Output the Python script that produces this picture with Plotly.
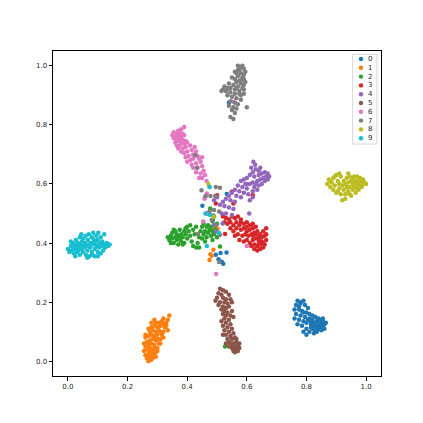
import plotly.graph_objects as go

labels = ["0", "1", "2", "3", "4", "5", "6", "7", "8", "9"]
colors = ["#1f77b4", "#ff7f0e", "#2ca02c", "#d62728", "#9467bd",
          "#8c564b", "#e377c2", "#7f7f7f", "#bcbd22", "#17becf"]
x_ticks = [0.0, 0.2, 0.4, 0.6, 0.8, 1.0]
y_ticks = [0.0, 0.2, 0.4, 0.6, 0.8, 1.0]

pts_0 = [(0.77,0.205),(0.78,0.20),(0.79,0.205),(0.765,0.19),(0.775,0.185),(0.795,0.19),(0.805,0.18),(0.76,0.175),
         (0.785,0.17),(0.80,0.165),(0.765,0.16),(0.78,0.155),(0.795,0.15),(0.76,0.145),(0.775,0.14),(0.79,0.135),
         (0.81,0.145),(0.77,0.125),(0.785,0.12),(0.80,0.13),(0.815,0.125),(0.82,0.14),(0.825,0.13),(0.83,0.12),
         (0.835,0.135),(0.84,0.125),(0.845,0.115),(0.85,0.13),(0.855,0.12),(0.86,0.125),(0.82,0.11),(0.83,0.105),
         (0.84,0.11),(0.85,0.105),(0.81,0.10),(0.825,0.095),(0.835,0.10),(0.80,0.09),(0.815,0.115),(0.845,0.14),
         (0.855,0.135),(0.86,0.11),(0.84,0.145),(0.83,0.15),(0.82,0.155),(0.81,0.16),(0.80,0.11),(0.79,0.10),
         (0.805,0.14),(0.835,0.115),(0.845,0.125),(0.825,0.12),(0.85,0.115),(0.855,0.145),(0.865,0.13),(0.815,0.135),
         (0.79,0.165),(0.775,0.175),(0.78,0.195),
         (0.451,0.526),(0.466,0.5),(0.496,0.36),(0.512,0.366),(0.532,0.368),(0.516,0.337),(0.521,0.33),(0.486,0.478),
         (0.533,0.566),(0.54,0.876),(0.505,0.345)]

pts_1 = [(0.27,0.0),(0.28,0.005),(0.265,0.01),(0.275,0.015),(0.285,0.012),(0.29,0.02),(0.26,0.02),(0.27,0.025),
         (0.28,0.03),(0.295,0.03),(0.255,0.035),(0.265,0.04),(0.275,0.045),(0.285,0.04),(0.30,0.045),(0.26,0.05),
         (0.27,0.055),(0.28,0.06),(0.29,0.055),(0.305,0.06),(0.265,0.065),(0.275,0.07),(0.285,0.075),(0.295,0.07),
         (0.31,0.075),(0.26,0.08),(0.27,0.085),(0.28,0.09),(0.29,0.085),(0.30,0.09),(0.315,0.09),(0.275,0.10),
         (0.285,0.105),(0.295,0.10),(0.305,0.105),(0.32,0.10),(0.28,0.115),(0.29,0.12),(0.30,0.115),(0.31,0.12),
         (0.325,0.115),(0.295,0.13),(0.305,0.13),(0.315,0.135),(0.33,0.13),(0.32,0.145),(0.335,0.14),(0.34,0.155),
         (0.33,0.12),(0.335,0.105),(0.32,0.08),(0.31,0.06),(0.30,0.035),(0.255,0.06),(0.285,0.025),(0.29,0.045),
         (0.275,0.035),(0.295,0.015),(0.3,0.075),(0.31,0.1),(0.32,0.125),(0.26,0.09),(0.27,0.11),(0.28,0.13),(0.29,0.14),
         (0.475,0.343),(0.482,0.357),(0.488,0.377),(0.492,0.45),(0.502,0.448),(0.478,0.362)]

pts_2 = [(0.335,0.42),(0.34,0.41),(0.345,0.425),(0.35,0.435),(0.35,0.415),(0.355,0.40),(0.36,0.42),(0.36,0.44),
         (0.365,0.43),(0.365,0.41),(0.37,0.395),(0.37,0.425),(0.375,0.445),(0.375,0.415),(0.38,0.43),(0.38,0.405),
         (0.385,0.42),(0.39,0.44),(0.39,0.40),(0.395,0.43),(0.40,0.415),(0.40,0.455),(0.405,0.44),(0.41,0.425),
         (0.41,0.46),(0.415,0.405),(0.42,0.445),(0.42,0.39),(0.425,0.43),(0.43,0.385),(0.43,0.455),(0.435,0.40),
         (0.44,0.42),(0.44,0.385),(0.445,0.44),(0.45,0.455),(0.45,0.415),(0.455,0.43),(0.455,0.465),(0.46,0.44),
         (0.46,0.405),(0.465,0.455),(0.465,0.42),(0.47,0.435),(0.47,0.46),(0.475,0.445),(0.48,0.425),(0.48,0.455),
         (0.485,0.44),(0.485,0.41),(0.49,0.43),(0.49,0.46),(0.495,0.445),(0.50,0.42),(0.345,0.40),(0.355,0.445),
         (0.385,0.395),(0.395,0.45),(0.477,0.517),(0.51,0.388),(0.527,0.05),(0.49,0.49),(0.5,0.465),(0.485,0.475)]

pts_3 = [(0.549,0.574),(0.50,0.562),(0.496,0.534),(0.555,0.534),(0.62,0.562),(0.52,0.49),(0.53,0.485),(0.54,0.48),
         (0.55,0.49),(0.56,0.485),(0.57,0.49),(0.58,0.48),(0.525,0.47),(0.535,0.465),(0.545,0.47),(0.555,0.46),
         (0.565,0.47),(0.575,0.46),(0.59,0.465),(0.60,0.47),(0.61,0.46),(0.62,0.465),(0.545,0.45),(0.555,0.44),
         (0.565,0.45),(0.58,0.445),(0.59,0.45),(0.60,0.44),(0.61,0.445),(0.62,0.45),(0.63,0.455),(0.56,0.425),
         (0.57,0.43),(0.585,0.425),(0.595,0.43),(0.605,0.425),(0.615,0.43),(0.625,0.435),(0.635,0.44),(0.645,0.43),
         (0.655,0.44),(0.665,0.45),(0.575,0.41),(0.59,0.405),(0.60,0.41),(0.61,0.40),(0.62,0.41),(0.63,0.415),
         (0.64,0.41),(0.65,0.42),(0.66,0.425),(0.615,0.39),(0.625,0.395),(0.635,0.39),(0.645,0.395),(0.655,0.40),
         (0.665,0.41),(0.625,0.38),(0.635,0.375),(0.645,0.38),(0.655,0.385),(0.64,0.40),(0.65,0.405),(0.63,0.43),
         (0.64,0.42),(0.66,0.395),(0.665,0.43),(0.60,0.455),(0.62,0.425),(0.58,0.47),(0.527,0.431)]

pts_4 = [(0.622,0.675),(0.628,0.665),(0.615,0.655),(0.63,0.65),(0.62,0.64),(0.64,0.645),(0.61,0.63),(0.625,0.625),
         (0.64,0.63),(0.65,0.635),(0.66,0.64),(0.67,0.635),(0.675,0.625),(0.665,0.625),(0.655,0.62),(0.645,0.615),
         (0.635,0.61),(0.62,0.605),(0.66,0.61),(0.67,0.615),(0.60,0.62),(0.59,0.615),(0.58,0.61),(0.595,0.60),
         (0.61,0.60),(0.625,0.59),(0.64,0.595),(0.65,0.60),(0.60,0.585),(0.585,0.59),(0.57,0.595),(0.575,0.575),
         (0.59,0.57),(0.605,0.565),(0.62,0.575),(0.635,0.58),(0.56,0.58),(0.55,0.57),(0.565,0.56),(0.58,0.555),
         (0.61,0.545),(0.54,0.56),(0.53,0.55),(0.545,0.545),(0.56,0.54),(0.52,0.54),(0.51,0.53),(0.525,0.525),
         (0.54,0.52),(0.555,0.515),(0.50,0.555),(0.49,0.545),(0.516,0.50),(0.53,0.50),(0.55,0.495),(0.608,0.50),
         (0.62,0.555),(0.49,0.461),(0.519,0.466),(0.497,0.439),(0.645,0.655),(0.63,0.6),(0.6,0.6)]

pts_5 = [(0.51,0.245),(0.52,0.24),(0.53,0.235),(0.505,0.23),(0.515,0.225),(0.54,0.225),(0.50,0.215),(0.52,0.215),
         (0.53,0.21),(0.545,0.21),(0.495,0.205),(0.51,0.20),(0.525,0.20),(0.535,0.195),(0.55,0.20),(0.505,0.19),
         (0.52,0.185),(0.53,0.18),(0.54,0.185),(0.515,0.175),(0.525,0.17),(0.535,0.165),(0.55,0.17),(0.52,0.16),
         (0.53,0.155),(0.545,0.155),(0.555,0.15),(0.525,0.145),(0.54,0.14),(0.53,0.13),(0.545,0.125),(0.52,0.12),
         (0.535,0.115),(0.55,0.11),(0.525,0.105),(0.54,0.10),(0.555,0.095),(0.53,0.09),(0.545,0.085),(0.535,0.075),
         (0.55,0.075),(0.56,0.08),(0.54,0.065),(0.555,0.06),(0.565,0.065),(0.545,0.055),(0.56,0.05),(0.57,0.055),
         (0.55,0.045),(0.565,0.04),(0.575,0.045),(0.555,0.035),(0.57,0.035),(0.56,0.03),(0.575,0.06),(0.565,0.075),
         (0.56,0.045),(0.55,0.06),(0.54,0.05),(0.57,0.05),(0.52,0.09),(0.53,0.06),(0.515,0.135)]

pts_6 = [(0.39,0.793),(0.38,0.785),(0.37,0.78),(0.355,0.775),(0.365,0.77),(0.375,0.775),(0.385,0.77),(0.35,0.765),
         (0.36,0.76),(0.37,0.765),(0.38,0.76),(0.39,0.765),(0.355,0.755),(0.365,0.75),(0.375,0.755),(0.385,0.75),
         (0.36,0.74),(0.37,0.745),(0.38,0.74),(0.395,0.745),(0.365,0.73),(0.375,0.73),(0.39,0.735),(0.40,0.74),
         (0.37,0.72),(0.385,0.72),(0.395,0.725),(0.41,0.73),(0.38,0.71),(0.39,0.705),(0.40,0.71),(0.415,0.715),
         (0.425,0.725),(0.43,0.71),(0.395,0.69),(0.405,0.695),(0.42,0.70),(0.435,0.695),(0.41,0.68),(0.42,0.685),
         (0.44,0.685),(0.45,0.69),(0.40,0.675),(0.415,0.665),(0.43,0.67),(0.445,0.675),(0.42,0.655),(0.435,0.655),
         (0.45,0.66),(0.455,0.645),(0.43,0.64),(0.445,0.635),(0.46,0.63),(0.45,0.62),(0.465,0.61),(0.44,0.62),
         (0.475,0.59),(0.458,0.55),(0.466,0.568),(0.464,0.5),(0.454,0.473),(0.497,0.295),(0.6,0.39),(0.533,0.917),
         (0.555,0.878),(0.46,0.555)]

pts_7 = [(0.57,1.0),(0.58,0.995),(0.585,1.0),(0.575,0.985),(0.59,0.99),(0.565,0.975),(0.58,0.975),(0.59,0.97),
         (0.57,0.965),(0.585,0.96),(0.56,0.955),(0.575,0.95),(0.59,0.955),(0.565,0.945),(0.58,0.94),(0.595,0.945),
         (0.555,0.935),(0.57,0.93),(0.585,0.925),(0.545,0.925),(0.56,0.92),(0.575,0.915),(0.59,0.92),(0.53,0.915),
         (0.545,0.91),(0.56,0.905),(0.58,0.90),(0.52,0.92),(0.535,0.90),(0.55,0.895),(0.565,0.89),(0.58,0.885),
         (0.545,0.88),(0.56,0.875),(0.57,0.87),(0.555,0.86),(0.565,0.855),(0.54,0.865),(0.56,0.84),(0.55,0.85),
         (0.6,0.86),(0.545,0.827),(0.555,0.82),(0.515,0.915),(0.525,0.93),(0.54,0.94),(0.55,0.96),(0.56,0.98),
         (0.59,0.935),(0.575,0.905),(0.565,0.925),(0.58,0.95),(0.57,0.985),(0.595,0.98),(0.535,0.925),(0.59,0.905),
         (0.448,0.579),(0.462,0.559),(0.478,0.559),(0.496,0.59),(0.51,0.587),(0.494,0.559),(0.475,0.508),(0.49,0.512),
         (0.507,0.507),(0.488,0.493),(0.497,0.461),(0.482,0.478),(0.436,0.431),(0.427,0.697),(0.433,0.655),
         (0.51,0.428),(0.507,0.336)]

pts_8 = [(0.87,0.60),(0.875,0.615),(0.88,0.59),(0.885,0.605),(0.89,0.62),(0.89,0.58),(0.895,0.595),(0.90,0.63),
         (0.90,0.57),(0.905,0.61),(0.91,0.585),(0.91,0.60),(0.915,0.565),(0.915,0.625),(0.92,0.595),(0.92,0.545),
         (0.925,0.61),(0.925,0.58),(0.93,0.60),(0.93,0.565),(0.935,0.62),(0.935,0.59),(0.94,0.605),(0.94,0.575),
         (0.945,0.625),(0.945,0.59),(0.95,0.61),(0.95,0.56),(0.955,0.60),(0.955,0.58),(0.96,0.625),(0.96,0.59),
         (0.965,0.61),(0.965,0.57),(0.97,0.60),(0.97,0.585),(0.975,0.615),(0.975,0.595),(0.98,0.605),(0.98,0.62),
         (0.985,0.59),(0.985,0.61),(0.99,0.60),(0.99,0.615),(0.995,0.605),(1.0,0.60),(0.96,0.605),(0.945,0.565),
         (0.93,0.55),(0.905,0.575),(0.88,0.61),(0.895,0.625),(0.91,0.635),(0.94,0.635),(0.97,0.625),(0.985,0.595),
         (0.975,0.58),(0.955,0.62),
         (0.471,0.6),(0.489,0.489)]

pts_9 = [(0.00,0.38),(0.005,0.37),(0.01,0.39),(0.012,0.375),(0.015,0.40),(0.018,0.385),(0.02,0.365),(0.022,0.395),
         (0.025,0.38),(0.027,0.41),(0.03,0.37),(0.03,0.39),(0.033,0.40),(0.035,0.375),(0.037,0.385),(0.04,0.42),
         (0.04,0.36),(0.042,0.395),(0.045,0.38),(0.047,0.405),(0.05,0.39),(0.05,0.37),(0.052,0.415),(0.055,0.385),
         (0.057,0.40),(0.06,0.36),(0.06,0.425),(0.062,0.39),(0.065,0.375),(0.067,0.41),(0.07,0.395),(0.07,0.43),
         (0.072,0.355),(0.075,0.385),(0.077,0.40),(0.08,0.37),(0.08,0.42),(0.082,0.36),(0.085,0.395),(0.087,0.41),
         (0.09,0.38),(0.09,0.355),(0.092,0.40),(0.095,0.425),(0.097,0.39),(0.10,0.37),(0.10,0.41),(0.102,0.435),
         (0.105,0.385),(0.107,0.40),(0.11,0.42),(0.11,0.365),(0.113,0.39),(0.115,0.405),(0.118,0.375),(0.12,0.395),
         (0.122,0.43),(0.125,0.385),(0.13,0.40),(0.135,0.39),(0.14,0.395),(0.01,0.405),(0.025,0.355),(0.045,0.43),
         (0.065,0.35),(0.085,0.435),(0.1,0.355),
         (0.475,0.59),(0.461,0.5),(0.466,0.39),(0.506,0.435),(0.477,0.495)]

groups = [pts_0, pts_1, pts_2, pts_3, pts_4, pts_5, pts_6, pts_7, pts_8, pts_9]

fig = go.Figure()
for lab, col, pts in zip(labels, colors, groups):
    fig.add_trace(go.Scatter(
        x=[p[0] for p in pts], y=[p[1] for p in pts],
        mode="markers", name=lab, showlegend=False,
        marker=dict(color=col, size=4.5, line=dict(width=0)),
    ))

axis_common = dict(
    showline=True, linecolor="black", linewidth=1, mirror=True,
    ticks="outside", ticklen=3.5, tickwidth=0.8, tickcolor="black",
    showgrid=False, zeroline=False, tickformat=".1f",
    tickfont=dict(family="DejaVu Sans", size=7, color="#262626"),
)
fig.update_xaxes(range=[-0.05, 1.05], tickvals=x_ticks, **axis_common)
fig.update_yaxes(range=[-0.05, 1.05], tickvals=y_ticks, **axis_common)

# Compact matplotlib-style legend drawn with shapes + text (paper coords)
plot_w, plot_h = 328.0, 325.0
box_x0, box_x1 = 1 - 28.3 / plot_w, 1 - 4.0 / plot_w
box_y1, box_y0 = 1 - 3.3 / plot_h, 1 - 93.0 / plot_h
mark_x = 1 - 20.0 / plot_w
text_x = 1 - 11.0 / plot_w
shapes = [dict(type="rect", xref="paper", yref="paper",
               x0=box_x0, x1=box_x1, y0=box_y0, y1=box_y1,
               line=dict(color="#cccccc", width=0.8), fillcolor="rgba(255,255,255,0.8)",
               layer="above")]
annotations = []
for i, (lab, col) in enumerate(zip(labels, colors)):
    yc = 1 - (8.0 + 8.8 * i) / plot_h
    shapes.append(dict(type="circle", xref="paper", yref="paper",
                       xsizemode="pixel", ysizemode="pixel",
                       xanchor=mark_x, yanchor=yc, x0=-2.2, x1=2.2, y0=-2.2, y1=2.2,
                       fillcolor=col, line=dict(width=0), layer="above"))
    annotations.append(dict(xref="paper", yref="paper", x=text_x, y=yc,
                            text=lab, showarrow=False, xanchor="center", yanchor="middle",
                            font=dict(family="DejaVu Sans", size=7, color="#262626")))

fig.update_layout(
    width=415, height=415,
    margin=dict(l=45, r=42, t=43, b=47),
    paper_bgcolor="white", plot_bgcolor="white",
    font=dict(family="DejaVu Sans", size=7, color="#262626"),
    showlegend=False,
    shapes=shapes, annotations=annotations,
)

fig.write_html("out.html")
